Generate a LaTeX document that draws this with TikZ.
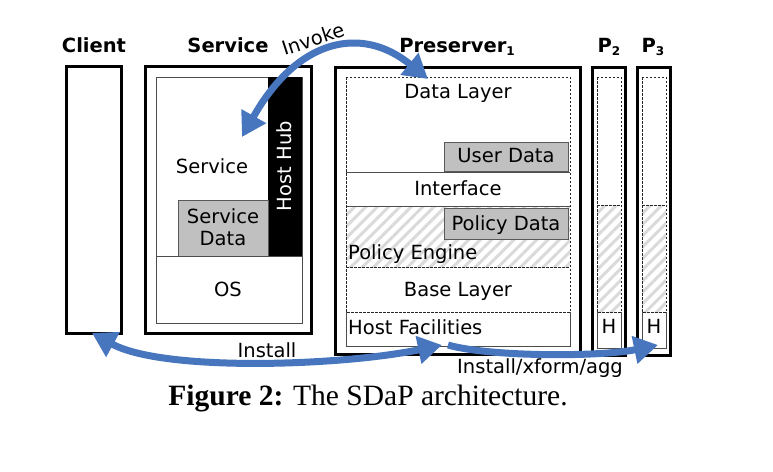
\documentclass[tikz,border=0pt]{standalone}
\usepackage{fontspec}
\setmainfont{DejaVu Sans}
\newfontfamily\capfont{Liberation Serif}
\usetikzlibrary{arrows.meta,patterns.meta}
\definecolor{arrowblue}{RGB}{72,118,190}
\definecolor{boxgray}{RGB}{192,192,192}
\definecolor{hatchgray}{RGB}{218,218,218}
\begin{document}
\begin{tikzpicture}[x=1pt,y=-1pt,
  thickbox/.style={draw=black,line width=3pt},
  thinbox/.style={draw=black!70,line width=1pt},
  dashbox/.style={draw=black!85,line width=1pt,dash pattern=on 2.5pt off 1.5pt},
  graybox/.style={fill=boxgray,draw=black!65,line width=1pt},
  hatchfill/.style={pattern={Lines[angle=45,distance=8pt,line width=3pt]},pattern color=hatchgray},
  lbl/.style={font=\fontsize{19.5}{22.5}\selectfont,inner sep=0pt,anchor=base},
  ttl/.style={font=\fontsize{19.5}{22.5}\selectfont\bfseries,inner sep=0pt,anchor=base},
  flow/.style={draw=arrowblue,line width=7pt},
  bighead/.tip={Triangle[length=24pt,width=27pt]}
]
\useasboundingbox (0,0) rectangle (773,471);

% ---------- titles ----------
\node[ttl] (tclient) at (94,52) {Client};
\node[ttl] (tservice) at (228,52) {Service};
\node[ttl] (tpres) at (457,52) {Preserver\raisebox{-3pt}{\fontsize{12}{12}\selectfont 1}};
\node[ttl] (tp2) at (609,52) {P\raisebox{-3pt}{\fontsize{12}{12}\selectfont 2}};
\node[ttl] (tp3) at (653,52) {P\raisebox{-3pt}{\fontsize{12}{12}\selectfont 3}};

% ---------- client ----------
\draw[thickbox] (66.5,66.5) rectangle (121,333.5);

% ---------- service ----------
\draw[thickbox] (145.5,66.5) rectangle (311.5,333.5);
\draw[thinbox] (156,77) rectangle (302,323);
\fill[black] (268,77) rectangle (302,256);
\draw[graybox] (178,200) rectangle (268,256);
\draw[thinbox] (156,256) -- (302,256);
\node[lbl] (svc) at (212,173) {Service};
\node[lbl,anchor=center,align=center] (svcdata) at (223,227) {Service\\Data};
\node[lbl,text=white,rotate=90] (hosthub) at (291,166) {Host Hub};
\node[lbl] (os) at (228,296) {OS};

% ---------- preserver 1 ----------
\fill[hatchfill] (346,206) rectangle (570,267);
\draw[thickbox] (335.5,67) rectangle (580,354);
\draw[thinbox] (346,172) -- (570,172);
\draw[thinbox] (346,206) -- (570,206);
\draw[dashbox] (346,267) -- (570,267);
\draw[thinbox] (346,312) -- (346,346) -- (570,346) -- (570,312);
\draw[dashbox] (346,77) rectangle (570,312);
\draw[graybox] (444,142) rectangle (568,171);
\draw[graybox] (444,208) rectangle (568,239);
\node[lbl] (datalayer) at (458,98) {Data Layer};
\node[lbl] (userdata) at (506,162) {User Data};
\node[lbl] (iface) at (458,195) {Interface};
\node[lbl] (policydata) at (506,230) {Policy Data};
\node[lbl,anchor=base west] (policyeng) at (348,259) {Policy Engine};
\node[lbl] (baselayer) at (458,296) {Base Layer};
\node[lbl,anchor=base west] (hostfac) at (348,334) {Host Facilities};

% ---------- P2 ----------
\fill[hatchfill] (597,205) rectangle (621,312);
\draw[thickbox] (592,67) rectangle (625,355.5);
\draw[dashbox] (597,77) rectangle (621,312);
\draw[dashbox] (597,205) -- (621,205);
\draw[thinbox] (597,312) -- (597,348) -- (621,348) -- (621,312);
\node[lbl] (h2) at (609,333) {H};

% ---------- P3 ----------
\fill[hatchfill] (642,205) rectangle (666,312);
\draw[thickbox] (637,67) rectangle (670,355.5);
\draw[dashbox] (642,77) rectangle (666,312);
\draw[dashbox] (642,205) -- (666,205);
\draw[thinbox] (642,312) -- (642,348) -- (666,348) -- (666,312);
\node[lbl] (h3) at (654,333) {H};

% ---------- labels of arrows ----------
\node[lbl,rotate=18,anchor=center] (invoke) at (313,39) {Invoke};
\node[lbl] (install) at (267,357) {Install};
\node[lbl] (installx) at (540,373) {Install/xform/agg};

% ---------- arrows ----------
\coordinate (invA) at (242,137);
\coordinate (invB) at (428,79);
\coordinate (insA) at (92,333);
\coordinate (insB) at (442,345);
\coordinate (insC) at (448,345);
\coordinate (insD) at (658,345);
\draw[flow,{bighead}-{bighead}] (invA) .. controls (298,38) and (362,25) .. (invB);
\draw[flow,{bighead}-{bighead}] (insA) .. controls (163,372) and (341,366) .. (insB);
\draw[flow,-{bighead}] (insC) .. controls (490,357) and (600,357) .. (insD);

% ---------- caption ----------
\node[inner sep=0pt,anchor=base,font=\capfont\fontsize{29.5}{32}\selectfont] (caption) at (368,405) {\textbf{Figure 2:} The SDaP architecture.};
\end{tikzpicture}
\end{document}
